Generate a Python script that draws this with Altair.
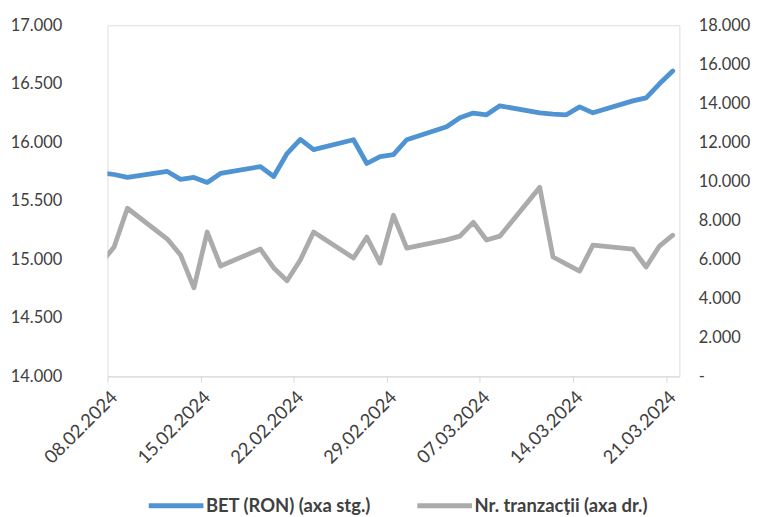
import altair as alt
import pandas as pd

# ---- data ----
dates = ["2024-02-07", "2024-02-08", "2024-02-09", "2024-02-12", "2024-02-13", "2024-02-14",
         "2024-02-15", "2024-02-16", "2024-02-19", "2024-02-20", "2024-02-21", "2024-02-22",
         "2024-02-23", "2024-02-26", "2024-02-27", "2024-02-28", "2024-02-29", "2024-03-01",
         "2024-03-04", "2024-03-05", "2024-03-06", "2024-03-07", "2024-03-08", "2024-03-11",
         "2024-03-12", "2024-03-13", "2024-03-14", "2024-03-15", "2024-03-18", "2024-03-19",
         "2024-03-20", "2024-03-21"]
bet = [15740, 15725, 15700, 15751, 15683, 15700, 15657, 15734, 15793, 15708, 15904, 16025,
       15938, 16022, 15819, 15878, 15895, 16022, 16133, 16210, 16250, 16235, 16312, 16252,
       16240, 16235, 16303, 16252, 16354, 16380, 16500, 16610]
tranzactii = [5800, 6630, 8620, 7040, 6220, 4540, 7400, 5660, 6530, 5560, 4900, 5970,
              7400, 6070, 7140, 5810, 8260, 6580, 7000, 7190, 7900, 6990, 7190, 9690,
              6120, 5760, 5400, 6730, 6530, 5610, 6680, 7240]
tick_labels = ["08.02.2024", "15.02.2024", "22.02.2024", "29.02.2024",
               "07.03.2024", "14.03.2024", "21.03.2024"]
left_ticks = [14000, 14500, 15000, 15500, 16000, 16500, 17000]
right_ticks = [0, 2000, 4000, 6000, 8000, 10000, 12000, 14000, 16000, 18000]
series_names = ["BET (RON) (axa stg.)", "Nr. tranzacții (axa dr.)"]
colors = ["#4F93D3", "#ABABAB"]

FONT = "Lato"
TXT = "#404040"

stamp = [d + "T12:00:00" for d in dates]
df_bet = pd.DataFrame({"date": stamp, "value": bet, "series": series_names[0]})
df_tr = pd.DataFrame({"date": stamp, "value": tranzactii, "series": series_names[1]})


def dt(lbl):
    d, m, y = lbl.split(".")
    return alt.DateTime(year=int(y), month=int(m), date=int(d))


x_enc = alt.X(
    "date:T",
    scale=alt.Scale(domain=[alt.DateTime(year=2024, month=2, date=8),
                            alt.DateTime(year=2024, month=3, date=22)]),
    axis=alt.Axis(
        title=None, values=[dt(l) for l in tick_labels], format="%d.%m.%Y",
        labelAngle=-45, labelFontSize=18.5, labelFont=FONT, labelColor=TXT,
        domainColor="#D9D9D9", tickColor="#D9D9D9", tickSize=6, grid=False,
        labelPadding=5, labelOverlap=False, labelFlush=False,
    ),
)

color_enc = alt.Color(
    "series:N",
    scale=alt.Scale(domain=series_names, range=colors),
    legend=alt.Legend(
        title=None, orient="none", legendX=39, legendY=453, direction="horizontal",
        columns=2, symbolType="stroke", symbolSize=3025, symbolStrokeWidth=5,
        labelFont=FONT, labelFontSize=18.5, labelFontWeight="bold", labelColor=TXT,
        columnPadding=36, labelOffset=0, labelLimit=400,
    ),
)

left = alt.Chart(df_bet).mark_line(strokeWidth=4.8, strokeJoin="round", strokeCap="round", clip=True).encode(
    x=x_enc,
    y=alt.Y("value:Q", scale=alt.Scale(domain=[14000, 17000]),
            axis=alt.Axis(title=None, values=left_ticks, orient="left", domain=False, ticks=False,
                          labelPadding=46, labelFontSize=16.5, labelFont=FONT, labelColor=TXT,
                          gridColor="#D9D9D9", gridWidth=1,
                          labelExpr="replace(format(datum.value, ','), ',', '.')")),
    color=color_enc,
)

right = alt.Chart(df_tr).mark_line(strokeWidth=4.8, strokeJoin="round", strokeCap="round", clip=True).encode(
    x=x_enc,
    y=alt.Y("value:Q", scale=alt.Scale(domain=[0, 18000]),
            axis=alt.Axis(title=None, values=right_ticks, orient="right", domain=False, ticks=False,
                          grid=False, labelPadding=19, labelFontSize=16.5, labelFont=FONT, labelColor=TXT,
                          labelExpr="datum.value == 0 ? '-' : replace(format(datum.value, ','), ',', '.')")),
    color=color_enc,
)

chart = alt.layer(right, left).resolve_scale(y="independent").properties(
    width=575, height=353,
    autosize=alt.AutoSizeParams(type="none"),
    padding={"left": 100, "top": 16, "right": 73, "bottom": 140},
).configure_view(stroke=None).configure(background="white")

chart.save("out.html", embed_options={"renderer": "svg", "actions": False})
